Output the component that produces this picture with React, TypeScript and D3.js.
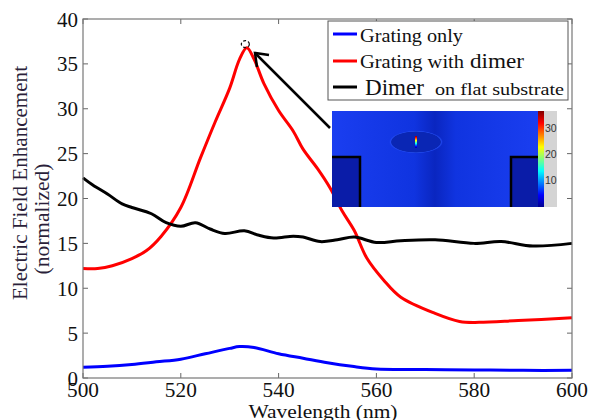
import React from "react";
import * as d3 from "d3";

// Grating only
const blueWl = [500, 505, 510, 515, 520, 525, 530, 532, 535, 540, 545, 550, 555, 560, 570, 580, 590, 600];
const blueVal = [1.2, 1.3, 1.5, 1.8, 2.1, 2.7, 3.3, 3.5, 3.4, 2.7, 2.2, 1.7, 1.3, 1.0, 0.95, 0.9, 0.85, 0.85];

// Grating with dimer
const redWl = [500, 503, 506, 510, 513, 516, 520, 524, 527, 530, 532, 533.5, 535, 537, 540, 543, 545, 548, 550.5, 553, 555.5, 558, 561.5, 565, 572, 577, 581, 589, 600];
const redVal = [12.2, 12.2, 12.5, 13.3, 14.2, 15.8, 19, 24.5, 28.5, 32.3, 35.5, 36.8, 35.5, 32.8, 29.8, 27.5, 25.5, 23.3, 21.2, 18.6, 16.4, 13.4, 10.9, 9.0, 7.2, 6.3, 6.2, 6.4, 6.7];

// Dimer on flat substrate
const blackWl = [500, 502, 505, 508, 510, 514, 517, 520, 523, 526, 529, 533, 536, 539, 543, 545, 548.5, 552, 555.5, 560, 565, 572, 580, 585.5, 592, 600];
const blackVal = [22.3, 21.5, 20.5, 19.4, 19, 18.3, 17.3, 16.9, 17.3, 16.6, 16.1, 16.4, 15.9, 15.6, 15.8, 15.7, 15.2, 15.4, 15.7, 15.1, 15.3, 15.4, 15, 15.2, 14.7, 15];

const xTicks = [500, 520, 540, 560, 580, 600];
const yTicks = [0, 5, 10, 15, 20, 25, 30, 35, 40];
const cbTicks = ["30", "20", "10"];

const serif = { fontFamily: "'Liberation Serif', 'Times New Roman', Times, serif" };
const sans = { fontFamily: "'Liberation Sans', Arial, Helvetica, sans-serif" };

const App = () => {
  const width = 589;
  const height = 420;
  const margin = { top: 19, right: 17, bottom: 42, left: 83 };
  const x = d3.scaleLinear().domain([500, 600]).range([margin.left, width - margin.right]);
  const y = d3.scaleLinear().domain([0, 40]).range([height - margin.bottom, margin.top]);

  const line = d3
    .line<[number, number]>()
    .x((d) => x(d[0]))
    .y((d) => y(d[1]))
    .curve(d3.curveCatmullRom);

  const series = [
    { wl: blueWl, v: blueVal, color: "#0000ff" },
    { wl: redWl, v: redVal, color: "#ff0000" },
    { wl: blackWl, v: blackVal, color: "#000000" },
  ];

  const x0 = margin.left;
  const x1 = width - margin.right;
  const y0 = height - margin.bottom;
  const y1 = margin.top;

  const jet = ["#00008f", "#0000ff", "#0080ff", "#00ffff", "#80ff80", "#ffff00", "#ff8000", "#ff0000", "#800000"];

  return (
    <svg width={width} height={height} style={{ position: "absolute", left: 0, top: 0, background: "#fff" }}>
      <defs>
        <linearGradient id="jet" x1="0" y1="1" x2="0" y2="0">
          {jet.map((c, i) => (
            <stop key={i} offset={i / (jet.length - 1)} stopColor={c} />
          ))}
        </linearGradient>
        <linearGradient id="mid" x1="0" y1="0" x2="1" y2="0">
          <stop offset="0" stopColor="#1a3ef0" />
          <stop offset="0.4" stopColor="#1034e0" />
          <stop offset="0.5" stopColor="#0a26c0" />
          <stop offset="0.6" stopColor="#1034e0" />
          <stop offset="1" stopColor="#1a3ef0" />
        </linearGradient>
        <radialGradient id="glow" cx="0.5" cy="0.5" r="0.5">
          <stop offset="0.8" stopColor="#0a26b4" />
          <stop offset="0.92" stopColor="#2a56f8" />
          <stop offset="1" stopColor="#1a3ef0" stopOpacity="0" />
        </radialGradient>
      </defs>

      {/* ticks */}
      {xTicks.map((t) => (
        <g key={t}>
          <line x1={x(t)} x2={x(t)} y1={y0} y2={y0 - 5} stroke="#666" />
          <line x1={x(t)} x2={x(t)} y1={y1} y2={y1 + 5} stroke="#666" />
          <text x={x(t)} y={397} textAnchor="middle" style={serif} fontSize={20} fill="#111" textLength={32} lengthAdjust="spacingAndGlyphs">
            {t}
          </text>
        </g>
      ))}
      {yTicks.map((t) => (
        <g key={t}>
          <line x1={x0} x2={x0 + 5} y1={y(t)} y2={y(t)} stroke="#666" />
          <line x1={x1} x2={x1 - 5} y1={y(t)} y2={y(t)} stroke="#666" />
          <text
            x={78}
            y={y(t) + 7.5}
            textAnchor="end"
            style={serif}
            fontSize={22}
            fill="#111"
            textLength={String(t).length * 10.5}
            lengthAdjust="spacingAndGlyphs"
          >
            {t}
          </text>
        </g>
      ))}

      {series.map((s, i) => (
        <path
          key={i}
          d={line(s.wl.map((w, j) => [w, s.v[j]] as [number, number])) || ""}
          fill="none"
          stroke={s.color}
          strokeWidth={3}
        />
      ))}

      <rect x={x0} y={y1} width={x1 - x0} height={y0 - y1} fill="none" stroke="#777" strokeWidth={1.2} />

      {/* peak marker and arrow */}
      <ellipse cx={x(533.2)} cy={y(37.2)} rx={4} ry={3.5} fill="none" stroke="#111" strokeWidth={1.2} strokeDasharray="3,2" />
      <line x1={330} y1={128} x2={256} y2={54} stroke="#000" strokeWidth={2.5} />
      <polyline points="257,67 255,53 269,55" fill="none" stroke="#000" strokeWidth={2.5} />

      {/* legend */}
      <rect x={328} y={21} width={240} height={79} fill="#fff" stroke="#555" strokeWidth={1} />
      <line x1={333} x2={357} y1={34} y2={34} stroke="#0000ff" strokeWidth={3} />
      <line x1={333} x2={357} y1={61} y2={61} stroke="#ff0000" strokeWidth={3} />
      <line x1={333} x2={357} y1={87} y2={87} stroke="#000" strokeWidth={3} />
      <text x={360} y={42} style={serif} fontSize={18.5} fill="#111" textLength={103} lengthAdjust="spacingAndGlyphs">
        Grating only
      </text>
      <text x={360} y={68} style={serif} fontSize={18.5} fill="#111" textLength={104} lengthAdjust="spacingAndGlyphs">
        Grating with
      </text>
      <text x={470} y={68} style={serif} fontSize={20.5} fill="#111" textLength={54} lengthAdjust="spacingAndGlyphs">
        dimer
      </text>
      <text x={365} y={95} style={serif} fontSize={23} fill="#111" textLength={59} lengthAdjust="spacingAndGlyphs">
        Dimer
      </text>
      <text x={435} y={95} style={serif} fontSize={17} fill="#111" textLength={129} lengthAdjust="spacingAndGlyphs">
        on flat substrate
      </text>

      {/* inset field map */}
      <rect x={544} y={111} width={13} height={96} fill="#d4d4d4" />
      <rect x={332} y={111} width={206} height={96} fill="url(#mid)" />
      <ellipse cx={416} cy={142} rx={27} ry={11.5} fill="url(#glow)" />
      <ellipse cx={416} cy={142} rx={25} ry={10.5} fill="#0a26b4" />
      <rect x={415} y={136} width={2} height={12} fill="url(#jet)" />
      <rect x={332} y={157} width={28} height={50} fill="#0a1ca8" />
      <rect x={511} y={157} width={27} height={50} fill="#0a1ca8" />
      <polyline points="332,157 360,157 360,207" fill="none" stroke="#000" strokeWidth={2.5} />
      <polyline points="511,207 511,157 538,157" fill="none" stroke="#000" strokeWidth={2.5} />
      <rect x={538} y={111} width={6} height={96} fill="url(#jet)" />
      {cbTicks.map((t, i) => (
        <text key={t} x={545} y={132 + i * 26} style={sans} fontSize={10.5} fill="#333">
          {t}
        </text>
      ))}

      {/* axis titles */}
      <text x={323} y={418} textAnchor="middle" style={serif} fontSize={19} fill="#111" textLength={149} lengthAdjust="spacingAndGlyphs">
        Wavelength (nm)
      </text>
      <text
        transform="translate(27,183) rotate(-90)"
        textAnchor="middle"
        style={serif}
        fontSize={21}
        fill="#2b1f3a"
        textLength={234}
        lengthAdjust="spacingAndGlyphs"
      >
        Electric Field Enhancement
      </text>
      <text
        transform="translate(49,219) rotate(-90)"
        textAnchor="middle"
        style={serif}
        fontSize={21}
        fill="#2b1f3a"
        textLength={111}
        lengthAdjust="spacingAndGlyphs"
      >
        (normalized)
      </text>
    </svg>
  );
};

export default App;
